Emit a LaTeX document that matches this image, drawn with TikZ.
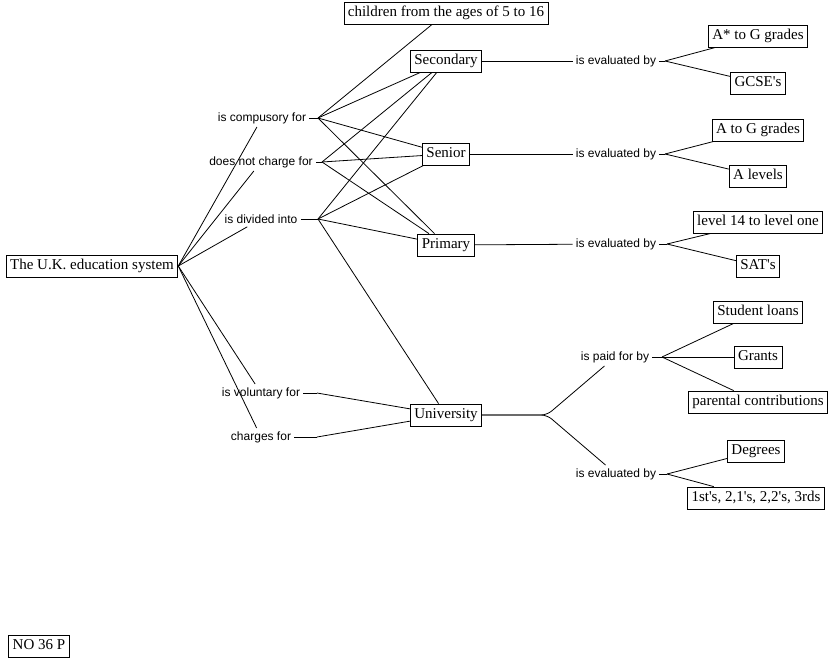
\documentclass[tikz,border=0pt]{standalone}
\usepackage{fontspec}
\setmainfont{Liberation Serif}
\setsansfont{Liberation Sans}

\begin{document}
\begin{tikzpicture}[x=1pt,y=-1pt]
    \tikzset{
        concept/.style={draw, line width=0.8pt, inner xsep=4pt, inner ysep=4pt,
            font=\fontsize{15}{18}\selectfont, text height=10pt, text depth=4pt},
        linkphrase/.style={inner sep=3pt, font=\sffamily\fontsize{12}{14}\selectfont},
        every path/.style={line width=0.8pt},
    }
    \useasboundingbox (0,0) rectangle (835,659);
    % the concepts
    \node[concept] (uk) at (92,266) {The U.K. education system};
    \node[concept] (ages) at (446,13) {children from the ages of 5 to 16};
    \node[concept] (sec) at (446,61) {Secondary};
    \node[concept] (sen) at (446,154) {Senior};
    \node[concept] (pri) at (446,245) {Primary};
    \node[concept] (univ) at (446,415) {University};
    \node[concept] (astar) at (758,36) {A* to G grades};
    \node[concept] (gcse) at (758,83) {GCSE\textquotesingle s};
    \node[concept] (atog) at (758,130) {A to G grades};
    \node[concept] (alev) at (758,176) {A levels};
    \node[concept] (lev) at (758,222) {level 14 to level one};
    \node[concept] (sats) at (758,266) {SAT\textquotesingle s};
    \node[concept] (loans) at (758,312) {Student loans};
    \node[concept] (grants) at (758,357) {Grants};
    \node[concept] (parent) at (758,402) {parental contributions};
    \node[concept] (deg) at (756,451) {Degrees};
    \node[concept] (firsts) at (756,498) {1st\textquotesingle s, 2,1\textquotesingle s, 2,2\textquotesingle s, 3rds};
    \node[concept] (no) at (39,646) {NO 36 P};
    % the linking phrases and the points where their lines fan out
    \node[linkphrase] (comp) at (262,118) {is compusory for};
    \node[linkphrase] (free) at (261,162) {does not charge for};
    \node[linkphrase] (div) at (261,219) {is divided into};
    \node[linkphrase] (vol) at (261,393) {is voluntary for};
    \node[linkphrase] (chg) at (261,437) {charges for};
    \node[linkphrase] (evalS) at (616,61) {is evaluated by};
    \node[linkphrase] (evalE) at (616,154) {is evaluated by};
    \node[linkphrase] (evalP) at (616,244) {is evaluated by};
    \node[linkphrase] (paid) at (615,357) {is paid for by};
    \node[linkphrase] (evalU) at (616,474) {is evaluated by};
    \coordinate (compF) at (318,118);
    \coordinate (freeF) at (322,162);
    \coordinate (divF) at (318,219);
    \coordinate (volF) at (317,393);
    \coordinate (chgF) at (317,437);
    \coordinate (evalSF) at (665,61);
    \coordinate (evalEF) at (665,154);
    \coordinate (evalPF) at (667,244);
    \coordinate (paidF) at (662,357);
    \coordinate (evalUF) at (667,474);
    \coordinate (fork) at (547,415);
    % from the education system
    \foreach \p in {comp,free,div,vol,chg}
        \draw (uk.east) -- (\p);
    \foreach \p in {comp,free,div,vol,chg,evalS,evalE,evalP,paid,evalU}
        \draw (\p.east) -- (\p F);
    \foreach \c in {ages,sec,sen,pri}
        \draw (compF) -- (\c);
    \foreach \c in {sec,sen,pri}
        \draw (freeF) -- (\c);
    \foreach \c in {sec,sen,pri,univ}
        \draw (divF) -- (\c);
    \draw (volF) -- (univ);
    \draw (chgF) -- (univ);
    % the schools and how they are evaluated
    \draw (sec) -- (evalS);
    \draw (sen) -- (evalE);
    \draw (pri) -- (evalP);
    \draw (evalSF) -- (astar);
    \draw (evalSF) -- (gcse);
    \draw (evalEF) -- (atog);
    \draw (evalEF) -- (alev);
    \draw (evalPF) -- (lev);
    \draw (evalPF) -- (sats);
    % the university splits in two
    \draw[rounded corners=6pt] (univ.east) -- (fork) -- (paid);
    \draw[rounded corners=6pt] (univ.east) -- (fork) -- (evalU);
    \foreach \c in {loans,grants,parent}
        \draw (paidF) -- (\c);
    \draw (evalUF) -- (deg);
    \draw (evalUF) -- (firsts);
\end{tikzpicture}
\end{document}
